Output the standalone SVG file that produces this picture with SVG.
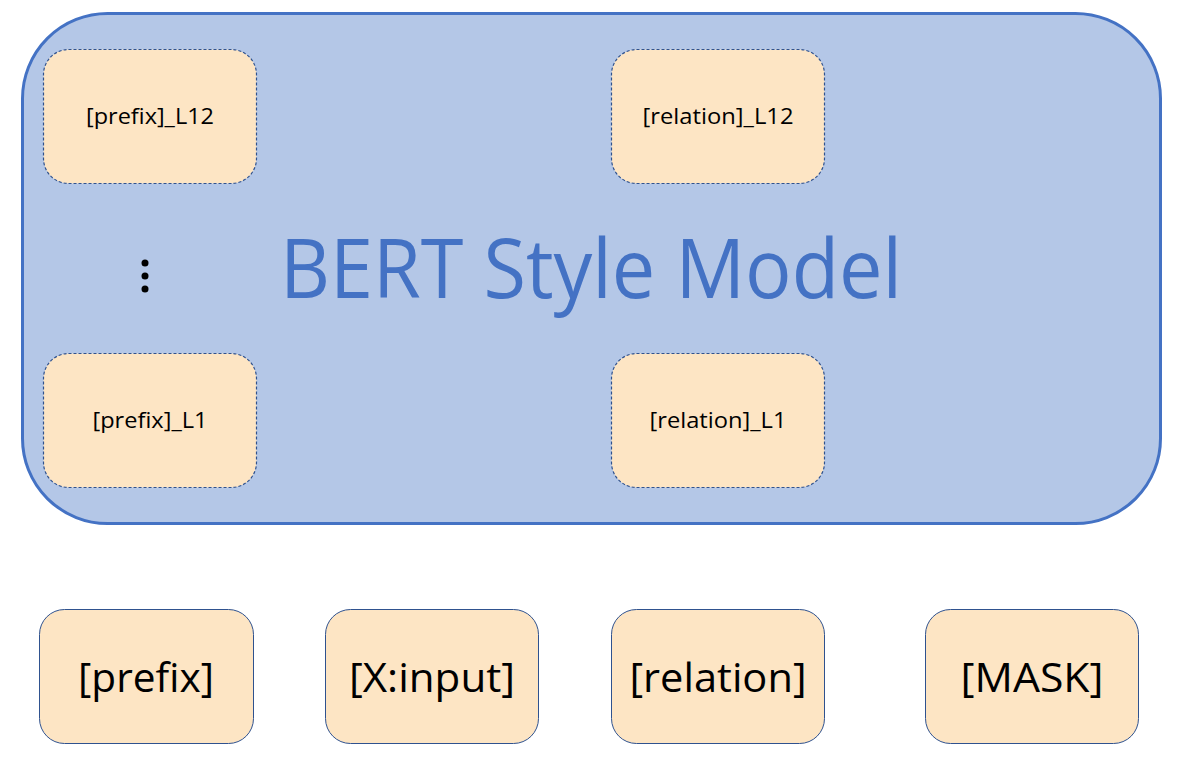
<svg xmlns="http://www.w3.org/2000/svg" width="1181" height="767" viewBox="0 0 1181 767">
<style>
.bg{fill:#fff}
.model{fill:#B4C7E7;stroke:#4472C4;stroke-width:3}
.inner{fill:#FDE5C4;stroke:#2F528F;stroke-width:1.2;stroke-dasharray:3 2}
.tok{fill:#FDE5C4;stroke:#2F528F;stroke-width:1}
.s{font-family:"Open Sans","Liberation Sans",Arial,sans-serif;font-size:22px;fill:#000;text-anchor:middle}
.b{font-family:"Open Sans","Liberation Sans",Arial,sans-serif;font-size:41px;fill:#000;text-anchor:middle}
.t{font-family:"Open Sans","Liberation Sans",Arial,sans-serif;font-size:82px;fill:#4472C4;text-anchor:middle}
</style>
<rect class="bg" x="0" y="0" width="1181" height="767"/>
<g id="bert-model">
<rect class="model" x="22.5" y="13.5" width="1138" height="510" rx="85" ry="85"/>
<text class="t" x="591" y="298" textLength="622" lengthAdjust="spacingAndGlyphs">BERT Style Model</text>
<circle cx="145" cy="263" r="3.5" fill="#000"/>
<circle cx="145" cy="276" r="3.5" fill="#000"/>
<circle cx="145" cy="289" r="3.5" fill="#000"/>
</g>
<g id="prefix-L12">
<rect class="inner" x="43.5" y="49.5" width="213" height="134" rx="25" ry="25"/>
<text class="s" x="150" y="124" textLength="128" lengthAdjust="spacingAndGlyphs">[prefix]_L12</text>
</g>
<g id="relation-L12">
<rect class="inner" x="611.5" y="49.5" width="213" height="134" rx="25" ry="25"/>
<text class="s" x="718" y="124" textLength="151" lengthAdjust="spacingAndGlyphs">[relation]_L12</text>
</g>
<g id="prefix-L1">
<rect class="inner" x="43.5" y="353.5" width="213" height="134" rx="25" ry="25"/>
<text class="s" x="150" y="428" textLength="115" lengthAdjust="spacingAndGlyphs">[prefix]_L1</text>
</g>
<g id="relation-L1">
<rect class="inner" x="611.5" y="353.5" width="213" height="134" rx="25" ry="25"/>
<text class="s" x="718" y="428" textLength="137" lengthAdjust="spacingAndGlyphs">[relation]_L1</text>
</g>
<g id="tok-prefix">
<rect class="tok" x="39.5" y="609.5" width="214" height="134" rx="25" ry="25"/>
<text class="b" x="146" y="692" textLength="136" lengthAdjust="spacingAndGlyphs">[prefix]</text>
</g>
<g id="tok-input">
<rect class="tok" x="325.5" y="609.5" width="213" height="134" rx="25" ry="25"/>
<text class="b" x="432" y="692" textLength="166" lengthAdjust="spacingAndGlyphs">[X:input]</text>
</g>
<g id="tok-relation">
<rect class="tok" x="611.5" y="609.5" width="213" height="134" rx="25" ry="25"/>
<text class="b" x="718" y="692" textLength="177" lengthAdjust="spacingAndGlyphs">[relation]</text>
</g>
<g id="tok-mask">
<rect class="tok" x="925.5" y="609.5" width="213" height="134" rx="25" ry="25"/>
<text class="b" x="1032" y="692" textLength="143" lengthAdjust="spacingAndGlyphs">[MASK]</text>
</g>
<g id="connectors"></g>
</svg>
